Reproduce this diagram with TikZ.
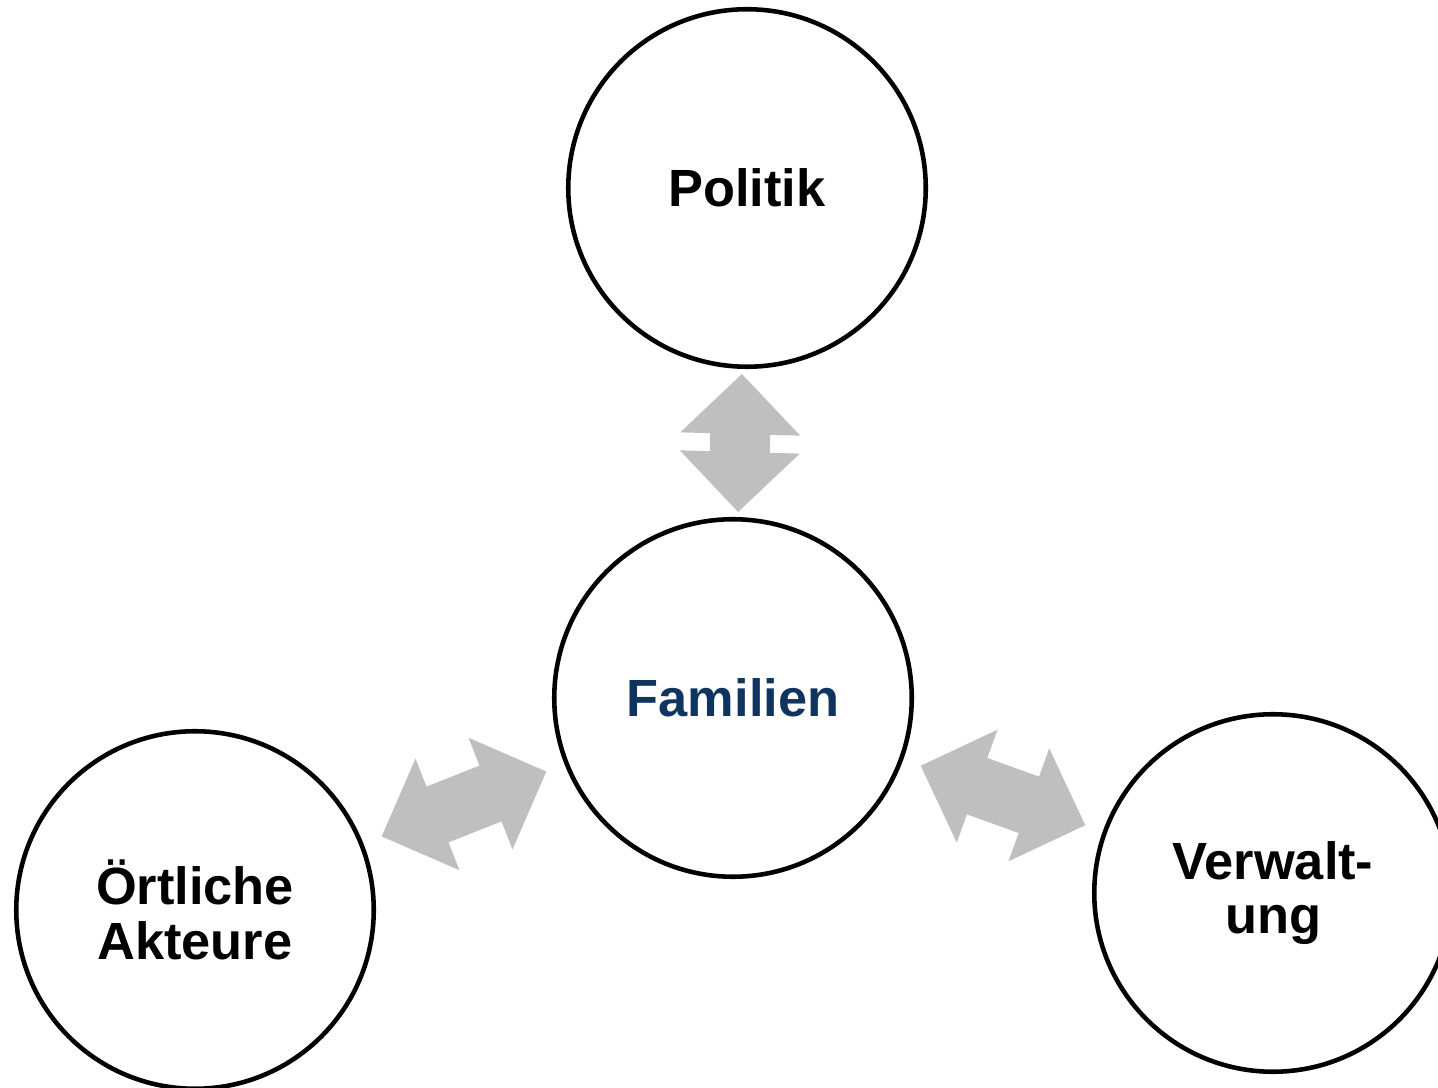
\documentclass[tikz,border=0pt]{standalone}
\usepackage{fontspec}
\setmainfont{Liberation Sans}
\usepackage{xcolor}
\usepackage{tikz}
\usetikzlibrary{calc}
\usetikzlibrary{positioning}

\definecolor{famblue}{HTML}{0F355F}
\definecolor{arrowgray}{HTML}{BFBFBF}

\tikzset{
  akteur/.style={circle,draw=black,line width=2.6pt,minimum size=7.15cm,
    align=center,font=\fontsize{29.8}{31}\selectfont\bfseries},
  pics/dblarrow/.style={code={
    \fill[arrowgray] ({-#1/2},0) -- ({-#1/2+1.2},1.2) -- ({-#1/2+1.2},0.6)
      -- ({#1/2-1.2},0.6) -- ({#1/2-1.2},1.2) -- ({#1/2},0)
      -- ({#1/2-1.2},-1.2) -- ({#1/2-1.2},-0.6) -- ({-#1/2+1.2},-0.6)
      -- ({-#1/2+1.2},-1.2) -- cycle;
  }}
}

\begin{document}
\begin{tikzpicture}
\useasboundingbox (0,0) rectangle (28.76,21.74);
\node[akteur] (politik) at (14.94,17.98) {Politik};
\node[akteur,text=famblue] (familien) at (14.66,7.78) {Familien};
\node[akteur] (akteure) at (3.90,3.54) {Örtliche\\Akteure};
\node[akteur] (verwaltung) at (25.46,3.88) {Verwalt-\\ung};
\path (familien.center) -- (politik.center) pic[pos=0.5,sloped] {dblarrow=2.76};
\path (akteure.center) -- (familien.center) pic[pos=0.5,sloped] {dblarrow=3.54};
\path (familien.center) -- (verwaltung.center) pic[pos=0.5,sloped] {dblarrow=3.5};
\end{tikzpicture}
\end{document}
